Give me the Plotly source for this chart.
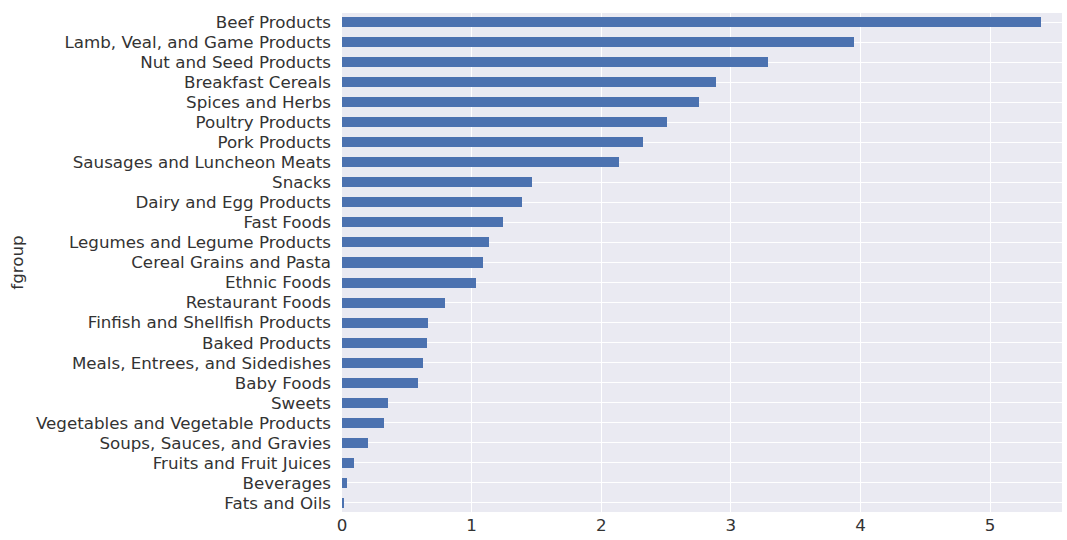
import plotly.graph_objects as go

categories = [
    "Beef Products", "Lamb, Veal, and Game Products", "Nut and Seed Products",
    "Breakfast Cereals", "Spices and Herbs", "Poultry Products", "Pork Products",
    "Sausages and Luncheon Meats", "Snacks", "Dairy and Egg Products", "Fast Foods",
    "Legumes and Legume Products", "Cereal Grains and Pasta", "Ethnic Foods",
    "Restaurant Foods", "Finfish and Shellfish Products", "Baked Products",
    "Meals, Entrees, and Sidedishes", "Baby Foods", "Sweets",
    "Vegetables and Vegetable Products", "Soups, Sauces, and Gravies",
    "Fruits and Fruit Juices", "Beverages", "Fats and Oils",
]
values = [
    5.39, 3.95, 3.29, 2.885, 2.755, 2.505, 2.325, 2.135, 1.465, 1.385, 1.244,
    1.135, 1.088, 1.037, 0.798, 0.664, 0.653, 0.624, 0.587, 0.355, 0.326,
    0.20, 0.094, 0.036, 0.018,
]
x_ticks = [0, 1, 2, 3, 4, 5]

fig = go.Figure(go.Bar(
    x=values, y=categories, orientation="h", width=0.5,
    marker=dict(color="#4C72B0", line=dict(width=0)),
))

font = "DejaVu Sans"
txt = "#333333"
fs = 16.7
fig.update_layout(
    width=1067, height=540,
    margin=dict(l=342, r=5, t=13, b=28),
    paper_bgcolor="white", plot_bgcolor="#EAEAF2",
    font=dict(family=font, size=fs, color=txt),
    showlegend=False,
    bargap=0,
)
fig.update_xaxes(
    range=[0, 5.555], tickvals=x_ticks, showgrid=True, gridcolor="white",
    gridwidth=1.2, zeroline=False, showline=False, ticks="", automargin=False,
    tickfont=dict(size=fs, color=txt), ticklabelstandoff=1,
)
fig.update_yaxes(
    type="category", categoryorder="array", categoryarray=categories,
    range=[24.45, -0.45], showgrid=True, gridcolor="white", gridwidth=1.2,
    zeroline=False, showline=False, ticks="", automargin=False,
    tickfont=dict(size=fs, color=txt), ticklabelstandoff=10,
    title=dict(text="fgroup", font=dict(size=fs, color=txt), standoff=8),
)
fig.write_html(
    "out.html",
    config={"displayModeBar": False},
    post_script="document.body.style.margin='0';document.body.style.overflow='hidden';",
)
